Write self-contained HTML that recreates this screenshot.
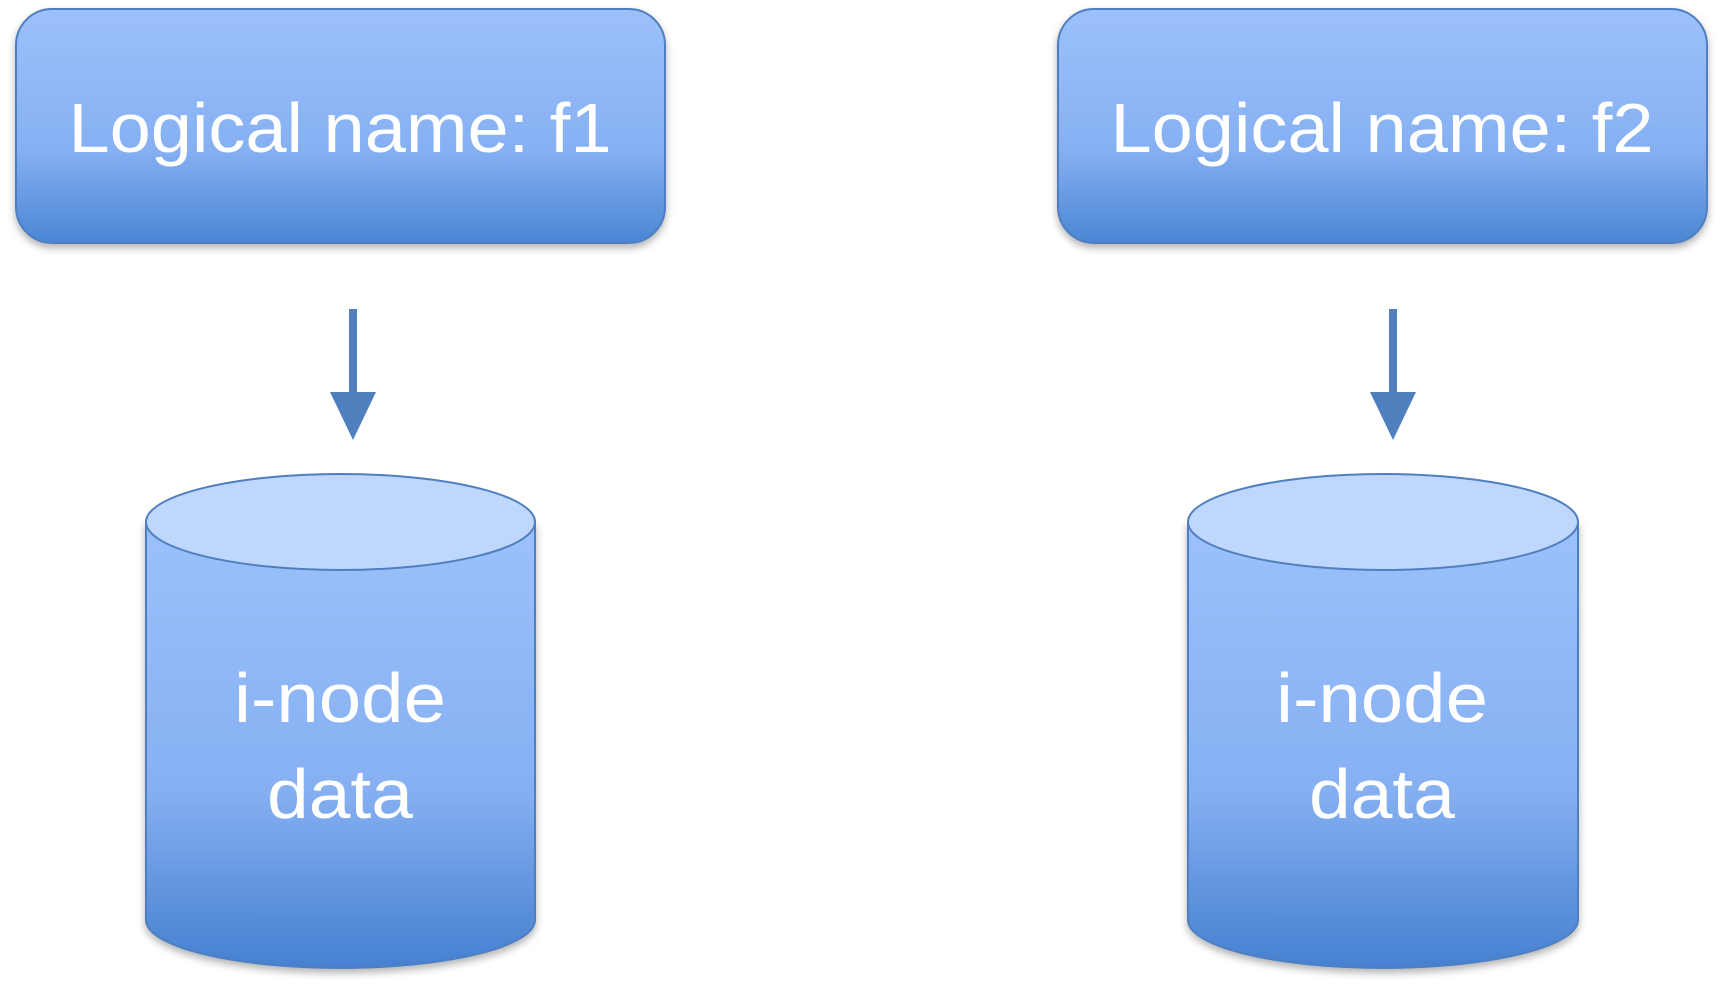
<!DOCTYPE html>
<html><head><meta charset="utf-8"><style>html,body{margin:0;padding:0;background:#fff}</style></head>
<body>
<svg width="1723" height="992" viewBox="0 0 1723 992" xmlns="http://www.w3.org/2000/svg">
<defs>
<linearGradient id="g" x1="0" y1="0" x2="0" y2="1">
<stop offset="0" stop-color="#9cc1fc"/><stop offset="0.6" stop-color="#86b0f2"/><stop offset="1" stop-color="#4a86d4"/>
</linearGradient>
<linearGradient id="gc" x1="0" y1="0" x2="0" y2="1">
<stop offset="0" stop-color="#9cc1fc"/><stop offset="0.6" stop-color="#86b0f2"/><stop offset="1" stop-color="#4580d0"/>
</linearGradient>
<filter id="s" x="-10%" y="-10%" width="120%" height="130%"><feDropShadow dx="0" dy="4" stdDeviation="4" flood-color="#000" flood-opacity="0.3"/></filter>
</defs>
<g font-family="'Liberation Sans', sans-serif" fill="#fff">
<rect x="16" y="9" width="649" height="234" rx="36" fill="url(#g)" stroke="#4f7fc0" stroke-width="2" filter="url(#s)"/>
<rect x="1058" y="9" width="649" height="234" rx="36" fill="url(#g)" stroke="#4f7fc0" stroke-width="2" filter="url(#s)"/>
<text x="340" y="152" font-size="70" text-anchor="middle" textLength="543" lengthAdjust="spacingAndGlyphs">Logical name: f1</text>
<text x="1382" y="152" font-size="70" text-anchor="middle" textLength="543" lengthAdjust="spacingAndGlyphs">Logical name: f2</text>
</g>
<g fill="#4f7fbd">
<rect x="349" y="309" width="8" height="86"/><polygon points="330,392 376,392 353,440"/>
<rect x="1389" y="309" width="8" height="86"/><polygon points="1370,392 1416,392 1393,440"/>
</g>
<g stroke="#4f7fc0" stroke-width="2">
<path d="M146,522 L146,920 A194.5,48 0 0 0 535,920 L535,522 Z" fill="url(#gc)" filter="url(#s)"/>
<ellipse cx="340.5" cy="522" rx="194.5" ry="48" fill="#bfd7fc"/>
<path d="M1188,522 L1188,920 A195,48 0 0 0 1578,920 L1578,522 Z" fill="url(#gc)" filter="url(#s)"/>
<ellipse cx="1383" cy="522" rx="195" ry="48" fill="#bfd7fc"/>
</g>
<g font-family="'Liberation Sans', sans-serif" fill="#fff" font-size="70" text-anchor="middle">
<text x="340" y="722" textLength="212" lengthAdjust="spacingAndGlyphs">i-node</text>
<text x="340" y="818" textLength="146" lengthAdjust="spacingAndGlyphs">data</text>
<text x="1382" y="722" textLength="212" lengthAdjust="spacingAndGlyphs">i-node</text>
<text x="1382" y="818" textLength="146" lengthAdjust="spacingAndGlyphs">data</text>
</g>
</svg>
</body></html>
